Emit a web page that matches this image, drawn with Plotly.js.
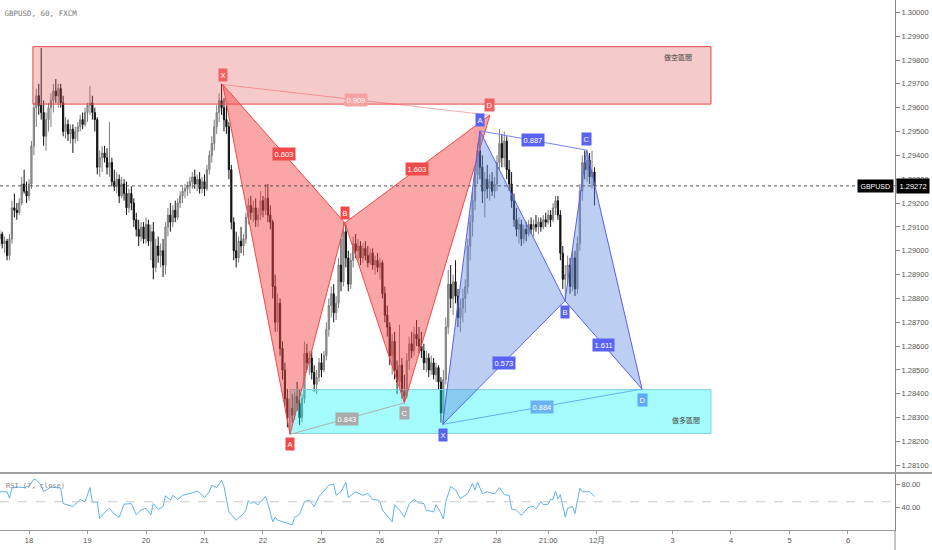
<!DOCTYPE html>
<html><head><meta charset="utf-8">
<script src="https://cdn.plot.ly/plotly-3.0.1.min.js"></script>
<style>html,body{margin:0;padding:0;background:#fff;}#chart{width:932px;height:550px;}</style>
</head><body><div id="chart"></div>
<script>
// ---- data (hourly bars, bar index 0 = 18 Nov 00:00) ----
const barStart = -12;
const openP = [
1.2905,1.2907,1.2903,1.2904,1.2898,1.2905,1.2918,1.2917,1.2916,1.2920,
1.2928,1.2925,1.2923,1.2928,1.2944,1.2960,1.2965,1.2961,1.2958,1.2948,
1.2955,1.2960,1.2963,1.2967,1.2965,1.2968,1.2962,1.2950,1.2953,1.2949,
1.2951,1.2947,1.2950,1.2952,1.2955,1.2953,1.2958,1.2961,1.2962,1.2958,
1.2955,1.2935,1.2939,1.2941,1.2939,1.2935,1.2937,1.2929,1.2927,1.2930,
1.2923,1.2928,1.2924,1.2918,1.2924,1.2920,1.2913,1.2909,1.2906,1.2910,
1.2905,1.2911,1.2904,1.2908,1.2893,1.2902,1.2898,1.2900,1.2894,1.2910,
1.2915,1.2912,1.2917,1.2914,1.2920,1.2923,1.2925,1.2926,1.2927,1.2929,
1.2931,1.2928,1.2930,1.2926,1.2929,1.2926,1.2934,1.2940,1.2945,1.2952,
1.2958,1.2963,1.2960,1.2955,1.2952,1.2934,1.2912,1.2900,1.2897,1.2904,
1.2902,1.2905,1.2914,1.2919,1.2916,1.2918,1.2913,1.2915,1.2921,1.2917,
1.2922,1.2915,1.2912,1.2885,1.2870,1.2878,1.2859,1.2850,1.2838,1.2830,
1.2834,1.2831,1.2839,1.2836,1.2830,1.2838,1.2857,1.2853,1.2855,1.2849,
1.2844,1.2847,1.2853,1.2850,1.2856,1.2867,1.2877,1.2882,1.2874,1.2878,
1.2894,1.2887,1.2908,1.2897,1.2886,1.2896,1.2903,1.2900,1.2902,1.2897,
1.2901,1.2898,1.2895,1.2899,1.2894,1.2896,1.2893,1.2895,1.2882,1.2873,
1.2868,1.2856,1.2862,1.2850,1.2845,1.2852,1.2841,1.2839,1.2854,1.2861,
1.2858,1.2865,1.2863,1.2860,1.2858,1.2853,1.2855,1.2850,1.2853,1.2848,
1.2851,1.2845,1.2832,1.2846,1.2868,1.2886,1.2880,1.2887,1.2881,1.2872,
1.2876,1.2880,1.2885,1.2902,1.2912,1.2921,1.2932,1.2942,1.2935,1.2925,
1.2930,1.2926,1.2929,1.2925,1.2928,1.2937,1.2945,1.2939,1.2946,1.2934,
1.2928,1.2921,1.2913,1.2909,1.2911,1.2905,1.2909,1.2907,1.2911,1.2909,
1.2911,1.2910,1.2912,1.2910,1.2913,1.2912,1.2915,1.2913,1.2918,1.2921,
1.2915,1.2899,1.2888,1.2890,1.2894,1.2885,1.2897,1.2884,1.2903,1.2925,
1.2937,1.2934,1.2938,1.2931,1.2933];
const highP = [
1.2909,1.2908,1.2906,1.2905,1.2907,1.2921,1.2924,1.2920,1.2922,1.2931,
1.2934,1.2929,1.2930,1.2946,1.2962,1.2968,1.2970,1.2985,1.2963,1.2958,
1.2962,1.2966,1.2970,1.2972,1.2970,1.2970,1.2965,1.2956,1.2955,1.2953,
1.2953,1.2952,1.2954,1.2957,1.2958,1.2960,1.2962,1.2969,1.2965,1.2960,
1.2956,1.2942,1.2944,1.2944,1.2943,1.2954,1.2939,1.2934,1.2933,1.2932,
1.2931,1.2930,1.2929,1.2926,1.2927,1.2922,1.2916,1.2913,1.2912,1.2912,
1.2914,1.2913,1.2911,1.2912,1.2905,1.2906,1.2903,1.2905,1.2912,1.2918,
1.2920,1.2919,1.2921,1.2922,1.2925,1.2927,1.2928,1.2929,1.2931,1.2933,
1.2934,1.2932,1.2933,1.2931,1.2932,1.2936,1.2942,1.2948,1.2955,1.2961,
1.2966,1.2970,1.2964,1.2961,1.2954,1.2936,1.2914,1.2908,1.2906,1.2910,
1.2907,1.2916,1.2922,1.2923,1.2921,1.2922,1.2918,1.2925,1.2923,1.2928,
1.2928,1.2919,1.2913,1.2890,1.2882,1.2880,1.2862,1.2853,1.2842,1.2838,
1.2840,1.2841,1.2845,1.2842,1.2840,1.2862,1.2861,1.2858,1.2858,1.2852,
1.2850,1.2855,1.2857,1.2858,1.2870,1.2880,1.2885,1.2886,1.2881,1.2897,
1.2905,1.2912,1.2911,1.2900,1.2899,1.2906,1.2907,1.2905,1.2904,1.2903,
1.2904,1.2902,1.2901,1.2901,1.2898,1.2899,1.2897,1.2896,1.2885,1.2877,
1.2870,1.2865,1.2866,1.2854,1.2869,1.2855,1.2848,1.2857,1.2864,1.2866,
1.2868,1.2871,1.2868,1.2866,1.2861,1.2858,1.2857,1.2856,1.2855,1.2853,
1.2852,1.2847,1.2850,1.2872,1.2892,1.2894,1.2890,1.2896,1.2884,1.2880,
1.2884,1.2888,1.2905,1.2915,1.2925,1.2935,1.2945,1.2950,1.2940,1.2933,
1.2936,1.2932,1.2933,1.2931,1.2940,1.2951,1.2949,1.2950,1.2948,1.2938,
1.2933,1.2924,1.2918,1.2914,1.2913,1.2911,1.2912,1.2913,1.2914,1.2913,
1.2915,1.2914,1.2914,1.2915,1.2916,1.2917,1.2917,1.2920,1.2923,1.2923,
1.2917,1.2902,1.2894,1.2898,1.2897,1.2900,1.2900,1.2906,1.2928,1.2940,
1.2942,1.2942,1.2941,1.2942,1.2935];
const lowP = [
1.2902,1.2901,1.2899,1.2896,1.2896,1.2903,1.2914,1.2913,1.2915,1.2919,
1.2924,1.2920,1.2921,1.2926,1.2940,1.2952,1.2957,1.2955,1.2944,1.2942,
1.2950,1.2952,1.2958,1.2962,1.2960,1.2960,1.2948,1.2947,1.2946,1.2945,
1.2941,1.2945,1.2946,1.2950,1.2951,1.2952,1.2954,1.2957,1.2955,1.2950,
1.2932,1.2931,1.2933,1.2937,1.2932,1.2931,1.2927,1.2925,1.2924,1.2920,
1.2922,1.2921,1.2915,1.2916,1.2917,1.2910,1.2906,1.2902,1.2904,1.2903,
1.2903,1.2902,1.2896,1.2888,1.2891,1.2895,1.2893,1.2889,1.2890,1.2906,
1.2908,1.2910,1.2912,1.2913,1.2918,1.2920,1.2922,1.2923,1.2924,1.2926,
1.2926,1.2925,1.2924,1.2924,1.2923,1.2925,1.2932,1.2937,1.2942,1.2949,
1.2954,1.2957,1.2950,1.2949,1.2930,1.2909,1.2896,1.2893,1.2895,1.2899,
1.2898,1.2903,1.2911,1.2913,1.2912,1.2910,1.2910,1.2913,1.2914,1.2915,
1.2912,1.2909,1.2880,1.2866,1.2866,1.2856,1.2846,1.2835,1.2826,1.2823,
1.2828,1.2829,1.2833,1.2827,1.2828,1.2836,1.2850,1.2848,1.2846,1.2841,
1.2840,1.2845,1.2847,1.2849,1.2854,1.2864,1.2872,1.2870,1.2871,1.2876,
1.2883,1.2885,1.2893,1.2883,1.2884,1.2893,1.2897,1.2896,1.2894,1.2895,
1.2896,1.2893,1.2894,1.2892,1.2890,1.2891,1.2888,1.2880,1.2870,1.2864,
1.2852,1.2848,1.2846,1.2840,1.2843,1.2838,1.2836,1.2838,1.2850,1.2855,
1.2856,1.2860,1.2857,1.2855,1.2850,1.2849,1.2847,1.2848,1.2846,1.2845,
1.2842,1.2828,1.2827,1.2844,1.2865,1.2876,1.2873,1.2878,1.2868,1.2866,
1.2870,1.2874,1.2882,1.2896,1.2906,1.2917,1.2928,1.2930,1.2920,1.2914,
1.2922,1.2921,1.2923,1.2922,1.2925,1.2934,1.2935,1.2935,1.2930,1.2925,
1.2918,1.2910,1.2906,1.2903,1.2902,1.2903,1.2904,1.2906,1.2907,1.2906,
1.2908,1.2907,1.2908,1.2909,1.2910,1.2911,1.2910,1.2912,1.2915,1.2913,
1.2896,1.2884,1.2879,1.2886,1.2882,1.2883,1.2881,1.2882,1.2900,1.2921,
1.2930,1.2929,1.2928,1.2926,1.2919];
const closeP = [
1.2907,1.2903,1.2904,1.2898,1.2905,1.2918,1.2917,1.2916,1.2920,1.2928,
1.2925,1.2923,1.2928,1.2944,1.2960,1.2965,1.2961,1.2958,1.2948,1.2955,
1.2960,1.2963,1.2967,1.2965,1.2968,1.2962,1.2950,1.2953,1.2949,1.2951,
1.2947,1.2950,1.2952,1.2955,1.2953,1.2958,1.2961,1.2962,1.2958,1.2955,
1.2935,1.2939,1.2941,1.2939,1.2935,1.2937,1.2929,1.2927,1.2930,1.2923,
1.2928,1.2924,1.2918,1.2924,1.2920,1.2913,1.2909,1.2906,1.2910,1.2905,
1.2911,1.2904,1.2908,1.2893,1.2902,1.2898,1.2900,1.2894,1.2910,1.2915,
1.2912,1.2917,1.2914,1.2920,1.2923,1.2925,1.2926,1.2927,1.2929,1.2931,
1.2928,1.2930,1.2926,1.2929,1.2926,1.2934,1.2940,1.2945,1.2952,1.2958,
1.2963,1.2960,1.2955,1.2952,1.2934,1.2912,1.2900,1.2897,1.2904,1.2902,
1.2905,1.2914,1.2919,1.2916,1.2918,1.2913,1.2915,1.2921,1.2917,1.2922,
1.2915,1.2912,1.2885,1.2870,1.2878,1.2859,1.2850,1.2838,1.2830,1.2834,
1.2831,1.2839,1.2836,1.2830,1.2838,1.2857,1.2853,1.2855,1.2849,1.2844,
1.2847,1.2853,1.2850,1.2856,1.2867,1.2877,1.2882,1.2874,1.2878,1.2894,
1.2887,1.2908,1.2897,1.2886,1.2896,1.2903,1.2900,1.2902,1.2897,1.2901,
1.2898,1.2895,1.2899,1.2894,1.2896,1.2893,1.2895,1.2882,1.2873,1.2868,
1.2856,1.2862,1.2850,1.2845,1.2852,1.2841,1.2839,1.2854,1.2861,1.2858,
1.2865,1.2863,1.2860,1.2858,1.2853,1.2855,1.2850,1.2853,1.2848,1.2851,
1.2845,1.2832,1.2846,1.2868,1.2886,1.2880,1.2887,1.2881,1.2872,1.2876,
1.2880,1.2885,1.2902,1.2912,1.2921,1.2932,1.2942,1.2935,1.2925,1.2930,
1.2926,1.2929,1.2925,1.2928,1.2937,1.2945,1.2939,1.2946,1.2934,1.2928,
1.2921,1.2913,1.2909,1.2911,1.2905,1.2909,1.2907,1.2911,1.2909,1.2911,
1.2910,1.2912,1.2910,1.2913,1.2912,1.2915,1.2913,1.2918,1.2921,1.2915,
1.2899,1.2888,1.2890,1.2894,1.2885,1.2897,1.2884,1.2903,1.2925,1.2937,
1.2934,1.2938,1.2931,1.2933,1.29272];
const lastPrice = 1.29272;

const tickBars = [0,24,48,72,96,120,144,168,192,213,233,264,288,312,336];
const tickLabels = ['18','19','20','21','22','25','26','27','28','21:00','12月','3','4','5','6'];
const priceTicks = [1.281,1.282,1.283,1.284,1.285,1.286,1.287,1.288,1.289,1.290,
                    1.291,1.292,1.293,1.294,1.295,1.296,1.297,1.298,1.299,1.300];
const rsiTicks = [40,80];

const rsiBar = [-12,-9,-8,-7,-5,-2,0,2,3,5,6,9,11,13,14,18,21,23,25,26,28,29,32,33,35,37,39,42,44,46,48,50,51,53,55,56,58,59,61,63,
67,69,71,72,74,75,77,79,80,82,85,88,89,90,91,92,94,97,98,100,101,102,108,109,110,111,113,115,117,119,123,125,126,128,130,131,134,137,139,141,
143,144,145,149,150,152,154,156,158,160,162,163,166,167,169,170,171,173,175,177,180,182,183,184,186,188,191,193,195,197,198,200,202,204,205,207,208,210,211,213,
214,215,216,217,218,220,221,223,224,226,227,230,232];
const rsiVal = [67,67,56,73,75,74,77,88,87,78,67,75,74,73,47,42,54,50,74,50,49,22,36,39,29,24,46,47,28,36,39,28,47,37,42,60,53,61,54,61,
65,68,62,57,67,78,74,86,76,33,19,30,36,52,47,50,45,59,47,16,24,19,11,24,26,29,50,53,42,59,78,80,61,67,83,57,67,61,64,54,
53,50,36,16,45,36,24,47,54,48,47,36,33,45,31,21,50,76,70,55,64,81,70,83,64,67,63,74,62,61,38,36,27,36,41,42,38,50,45,46,
54,54,68,55,62,24,39,42,30,73,67,67,59];

const redNames = ['X','A','B','C','D'];
const redBar = [79.5,107.1,129.6,154.0,189.1];
const redPrice = [1.29697,1.28230,1.29117,1.28362,1.29569];
const redRatios = ['0.603','1.603','0.909','0.843'];
const blueNames = ['X','A','B','C','D'];
const blueBar = [169.7,185.0,219.9,228.8,251.5];
const bluePrice = [1.28272,1.29503,1.28790,1.29422,1.28420];
const blueRatios = ['0.573','1.611','0.887','0.884'];

const shortZoneBar = [1.6,279.8];
const shortZonePrice = [1.29615,1.29856];
const longZoneBar = [107.1,279.8];
const longZonePrice = [1.28234,1.28418];
const zoneLabels = ['做空區間','做多區間'];
const zoneLabelBar = [266.3,269.5];
const zoneLabelPrice = [1.29812,1.28290];

// ---- build ----
const F = 'Liberation Sans, Arial, Noto Sans CJK SC, sans-serif';
const MONO = 'DejaVu Sans Mono, Liberation Mono, monospace';
const xs = closeP.map((_, k) => barStart + k);

const traces = [];
traces.push({type:'candlestick', x: xs, open: openP, high: highP, low: lowP, close: closeP,
  xaxis:'x', yaxis:'y', showlegend:false, hoverinfo:'skip', whiskerwidth:0,
  increasing:{line:{color:'#7d7d7d', width:1}, fillcolor:'#a8a8a8'},
  decreasing:{line:{color:'#111111', width:1}, fillcolor:'#111111'}});

function rect(bx, py, fill, line){
  return {type:'scatter', mode:'lines', x:[bx[0],bx[1],bx[1],bx[0],bx[0]], y:[py[0],py[0],py[1],py[1],py[0]],
    fill:'toself', fillcolor:fill, line:{color:line, width:1}, xaxis:'x', yaxis:'y', showlegend:false, hoverinfo:'skip'};
}
traces.push(rect(shortZoneBar, shortZonePrice, 'rgba(222,80,80,0.30)', '#e84a4a'));
traces.push(rect(longZoneBar, longZonePrice, 'rgba(0,245,245,0.36)', '#86cfe0'));

function poly(bars, prices, idx, fill, line, w){
  const t = {type:'scatter', mode:'lines', x: idx.map(k=>bars[k]), y: idx.map(k=>prices[k]),
    line:{color:line, width:w}, xaxis:'x', yaxis:'y', showlegend:false, hoverinfo:'skip'};
  if (fill) { t.fill = 'toself'; t.fillcolor = fill; }
  return t;
}
// red pattern
traces.push(poly(redBar, redPrice, [0,1,2,0], 'rgba(245,70,70,0.48)', '#f04a4a', 1));
traces.push(poly(redBar, redPrice, [2,3,4,2], 'rgba(245,70,70,0.48)', '#f04a4a', 1));
traces.push(poly(redBar, redPrice, [0,4], null, 'rgba(240,74,74,0.45)', 1));
traces.push(poly(redBar, redPrice, [1,3], null, '#b0b0b0', 1));
// blue pattern
traces.push(poly(blueBar, bluePrice, [0,1,2,0], 'rgba(95,140,225,0.42)', '#5a5ff0', 1));
traces.push(poly(blueBar, bluePrice, [2,3,4,2], 'rgba(95,140,225,0.42)', '#5a5ff0', 1));
traces.push(poly(blueBar, bluePrice, [1,3], null, '#7c84f2', 1));
traces.push(poly(blueBar, bluePrice, [0,4], null, '#64b0f4', 1));

// RSI
traces.push({type:'scatter', mode:'lines', x: rsiBar, y: rsiVal, xaxis:'x', yaxis:'y2',
  line:{color:'#5fb2f2', width:1}, showlegend:false, hoverinfo:'skip'});

const ann = [];
function tag(x, y, text, bg, yshift){
  ann.push({x, y, xref:'x', yref:'y', text, showarrow:false, bgcolor:bg, borderpad:1.5,
    font:{color:'#ffffff', size:7.5, family:F}, yshift});
}
// point labels
const redSide = [1,-1,1,-1,1];
const redTagColor = ['#f26262','#f04a4a','#f04a4a','#aaaaaa','#f06060'];
redNames.forEach((n,k)=>tag(redBar[k], redPrice[k], n, redTagColor[k], redSide[k]*10));
const blueSide = [-1,1,-1,1,-1];
const blueTagColor = ['#5a62f2','#5a62f2','#5a62f2','#5a62f2','#5ea8f4'];
blueNames.forEach((n,k)=>tag(blueBar[k], bluePrice[k], n, blueTagColor[k], blueSide[k]*11));
// ratio labels at leg midpoints
function mid(bars, prices, a, b){ return [(bars[a]+bars[b])/2, (prices[a]+prices[b])/2]; }
const redLegs = [[0,2],[2,4],[0,4],[1,3]];
const redRatioColor = ['#f04a4a','#f04a4a','#f5a3a3','#aaaaaa'];
redLegs.forEach((lg,k)=>{ const m = mid(redBar, redPrice, lg[0], lg[1]); tag(m[0], m[1], redRatios[k], redRatioColor[k], 0); });
const blueLegs = [[0,2],[2,4],[1,3],[0,4]];
const blueRatioColor = ['#5a62f2','#5a62f2','#5a62f2','#6ab2f4'];
blueLegs.forEach((lg,k)=>{ const m = mid(blueBar, bluePrice, lg[0], lg[1]); tag(m[0], m[1], blueRatios[k], blueRatioColor[k], 0); });
// zone labels
zoneLabels.forEach((t,k)=>ann.push({x:zoneLabelBar[k], y:zoneLabelPrice[k], xref:'x', yref:'y', text:t, showarrow:false,
  font:{size:7, color:'#444', family:'Noto Sans CJK TC, sans-serif'}}));
// last price labels
ann.push({xref:'paper', x:1, xanchor:'right', xshift:-1, yref:'y', y:lastPrice, text:'GBPUSD', showarrow:false,
  bgcolor:'#000000', borderpad:2.5, font:{color:'#fff', size:7, family:F}});
ann.push({xref:'paper', x:1, xanchor:'left', xshift:1, yref:'y', y:lastPrice, text:lastPrice.toFixed(5), showarrow:false,
  bgcolor:'#000000', borderpad:2.5, font:{color:'#fff', size:7.5, family:F}});
// RSI label
ann.push({xref:'paper', yref:'paper', x:0.005, y:0.083, xanchor:'left', yanchor:'middle', text:'RSI (7, close)', showarrow:false,
  font:{size:7, color:'#888', family:MONO}});

const mainBottom = 57/530;
const layout = {
  width:932, height:550, margin:{l:0, r:37, t:0, b:20},
  paper_bgcolor:'#ffffff', plot_bgcolor:'#ffffff', hovermode:false, showlegend:false,
  title:{text:'GBPUSD, 60, FXCM', x:0.005, xanchor:'left', xref:'paper', yref:'container', y:0.976, yanchor:'middle',
    font:{family:MONO, size:7.5, color:'#777'}},
  xaxis:{range:[-11.9, 355.3], anchor:'y2', tickvals:tickBars, ticktext:tickLabels, ticks:'outside', ticklen:3,
    tickcolor:'#999', showline:true, linecolor:'#999', linewidth:1, showgrid:false, zeroline:false,
    rangeslider:{visible:false}, tickfont:{family:F, size:7.5, color:'#555'}, fixedrange:true},
  yaxis:{domain:[mainBottom,1], range:[1.28068, 1.300516], side:'right', anchor:'x', tickvals:priceTicks, tickformat:'.5f',
    ticks:'outside', ticklen:4, tickcolor:'#888', showline:true, linecolor:'#888', showgrid:false, zeroline:false,
    tickfont:{family:F, size:7.5, color:'#555'}, fixedrange:true},
  yaxis2:{domain:[0,mainBottom], range:[2.4,98.6], side:'right', anchor:'x', tickvals:rsiTicks,
    ticktext:rsiTicks.map(v=>v.toFixed(2)), ticks:'outside', ticklen:4, tickcolor:'#888', showline:true, linecolor:'#888',
    showgrid:false, zeroline:false, tickfont:{family:F, size:7.5, color:'#555'}, fixedrange:true},
  shapes:[
    {type:'line', xref:'paper', x0:0, x1:1, yref:'y', y0:lastPrice, y1:lastPrice, line:{color:'#555', width:1, dash:'dot'}, layer:'above'},
    {type:'line', xref:'paper', x0:0, x1:1.045, yref:'paper', y0:mainBottom, y1:mainBottom, line:{color:'#a0a0a0', width:2}},
    {type:'line', xref:'paper', x0:0, x1:1, yref:'y2', y0:50, y1:50, line:{color:'#c8c8c8', width:1, dash:'dash'}},
    {type:'line', xref:'paper', x0:1, x1:1, yref:'paper', y0:-0.04, y1:0, line:{color:'#888', width:1}}
  ],
  annotations: ann
};
Plotly.newPlot('chart', traces, layout, {displayModeBar:false, staticPlot:true});
</script>
</body></html>
